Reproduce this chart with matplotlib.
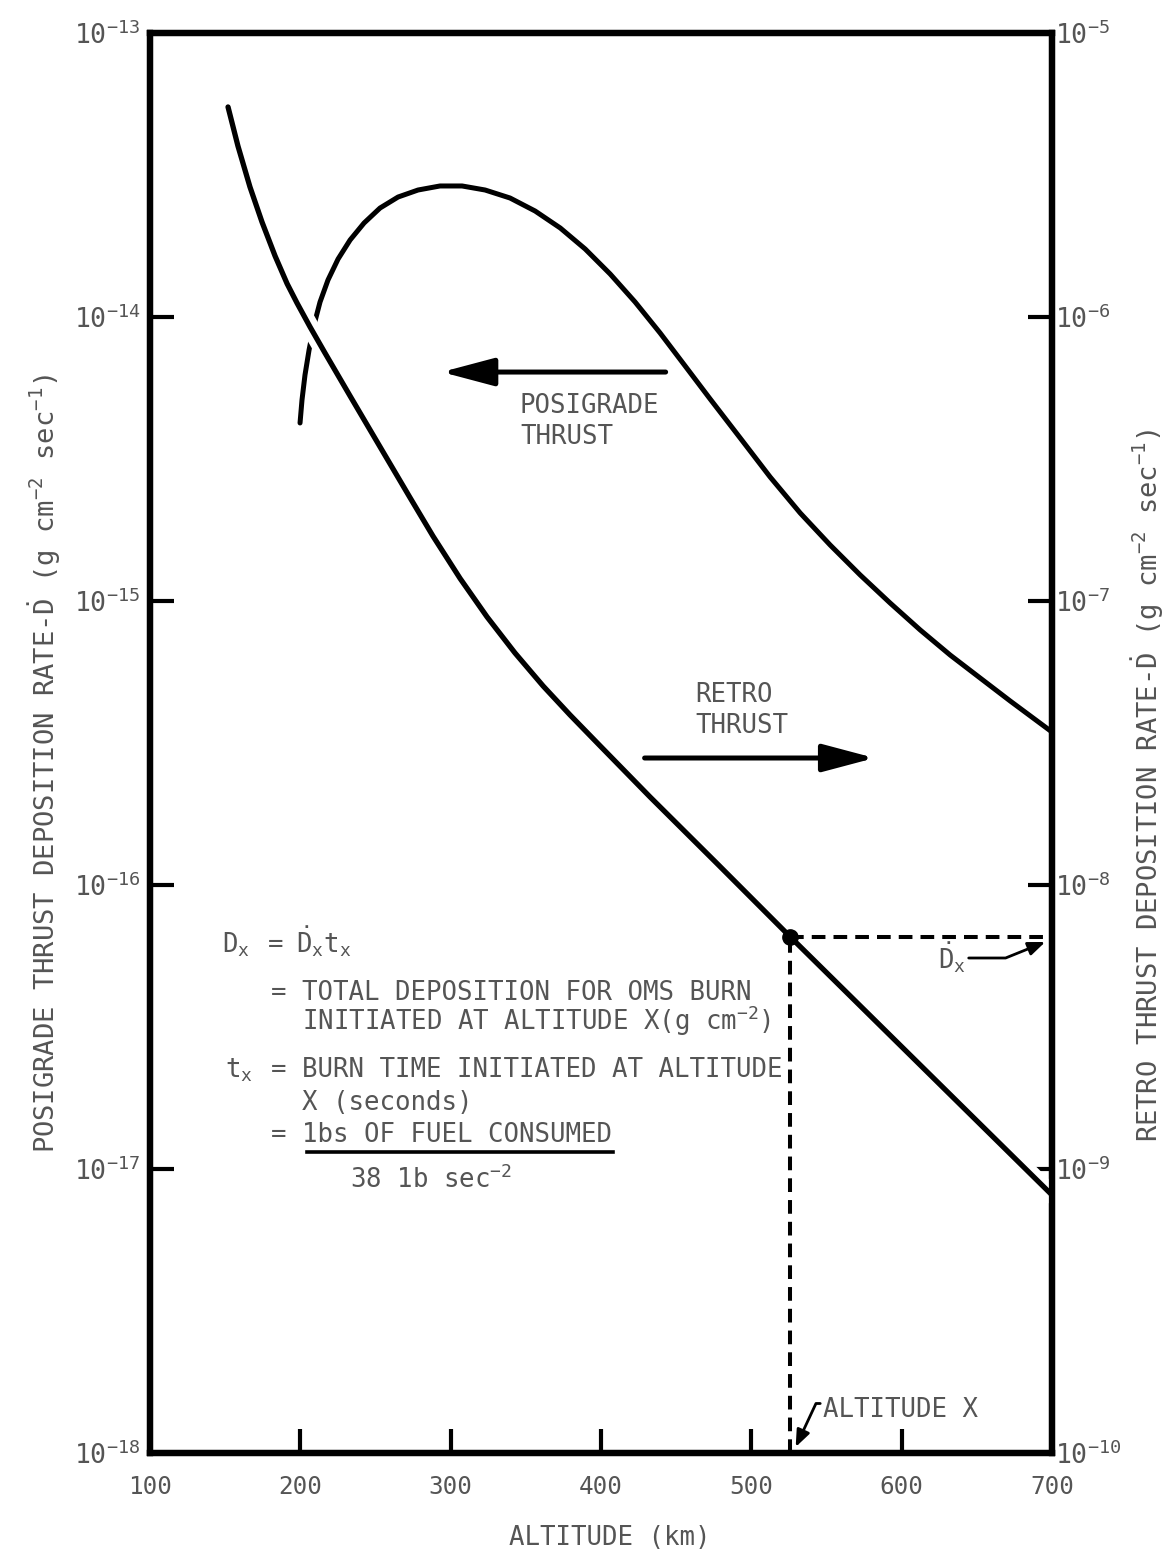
import numpy as np
import matplotlib
matplotlib.use("Agg")
import matplotlib.pyplot as plt
import matplotlib.patheffects as pe
from matplotlib.lines import Line2D
from matplotlib.ticker import NullLocator

# ---- data ---------------------------------------------------------------
# retro thrust curve, right axis (g cm^-2 sec^-1)
retro_alt = [151.9, 158.5, 166.5, 174.5, 183.2, 191.2, 197.8, 206.5, 216.4,
             233.1, 255.0, 273.0, 288.3, 306.3, 324.2, 342.8, 361.5, 379.4,
             399.4, 432.7, 477.2, 526, 700]
retro_rate = [5.49e-6, 4.00e-6, 2.87e-6, 2.16e-6, 1.64e-6, 1.31e-6, 1.12e-6,
              9.22e-7, 7.47e-7, 5.27e-7, 3.35e-7, 2.31e-7, 1.69e-7, 1.20e-7,
              8.79e-8, 6.56e-8, 5.02e-8, 3.97e-8, 3.09e-8, 2.04e-8, 1.19e-8,
              6.56e-9, 8.10e-10]

# posigrade thrust curve, left axis
posi_alt = [199.8, 201.1, 203.1, 205.8, 209.1, 213.1, 218.4, 225.1, 233.1,
            242.4, 253.0, 265.0, 278.3, 292.9, 307.6, 322.9, 339.5, 356.2,
            372.9, 389.5, 406.1, 422.7, 439.3, 456.0, 472.6, 492.6, 512.5,
            532.5, 552.4, 572.4, 592.3, 612.3, 632.3, 652.2, 672.2, 700]
posi_rate = [4.235e-15, 5.10e-15, 6.25e-15, 7.65e-15, 9.37e-15, 1.129e-14,
             1.350e-14, 1.600e-14, 1.867e-14, 2.143e-14, 2.419e-14, 2.645e-14,
             2.800e-14, 2.893e-14, 2.893e-14, 2.800e-14, 2.624e-14, 2.361e-14,
             2.058e-14, 1.735e-14, 1.417e-14, 1.129e-14, 8.786e-15, 6.72e-15,
             5.144e-15, 3.749e-15, 2.733e-15, 2.041e-15, 1.575e-15, 1.235e-15,
             9.84e-16, 7.91e-16, 6.45e-16, 5.356e-16, 4.445e-16, 3.457e-16]

burn_alt = 526          # "altitude X"
burn_rate = 6.56e-9     # D-dot at altitude X (right axis)

x_ticks = [100, 200, 300, 400, 500, 600, 700]
left_ticks = [1e-18, 1e-17, 1e-16, 1e-15, 1e-14, 1e-13]
left_labels = [r"$10^{-18}$", r"$10^{-17}$", r"$10^{-16}$", r"$10^{-15}$",
               r"$10^{-14}$", r"$10^{-13}$"]
right_ticks = [1e-10, 1e-9, 1e-8, 1e-7, 1e-6, 1e-5]
right_labels = [r"$10^{-10}$", r"$10^{-9}$", r"$10^{-8}$", r"$10^{-7}$",
                r"$10^{-6}$", r"$10^{-5}$"]

# ---- style ----------------------------------------------------------------
plt.rcParams.update({
    "font.family": ["DejaVu Sans Mono", "DejaVu Sans"],
    "mathtext.fontset": "custom",
    "mathtext.rm": "DejaVu Sans Mono",
    "mathtext.it": "DejaVu Sans Mono",
    "mathtext.bf": "DejaVu Sans Mono",
})
GREY = "#555555"
W, H = 1170, 1552


def px(x, y):
    # pixel position in the picture -> figure fraction
    return x / W, 1 - y / H


fig = plt.figure(figsize=(W / 100, H / 100), dpi=100)
ax = fig.add_axes([150 / W, 1 - 1453 / H, (1052 - 150) / W, (1453 - 33) / H])
ax.set_xlim(100, 700)
ax.set_yscale("log")
ax.set_ylim(1e-18, 1e-13)
ax2 = ax.twinx()
ax2.set_yscale("log")
ax2.set_ylim(1e-10, 1e-5)

for a in (ax, ax2):
    for s in a.spines.values():
        s.set_linewidth(4.5)
        s.set_color("black")
    a.yaxis.set_minor_locator(NullLocator())
    a.tick_params(direction="in", length=17, width=3, color="black",
                  labelcolor=GREY, labelsize=19)

ax.set_xticks(x_ticks, [str(v) for v in x_ticks])
ax.tick_params(axis="x", pad=16, labelsize=17.5)
ax.set_yticks(left_ticks, left_labels)
ax.tick_params(axis="y", pad=7)
ax2.set_yticks(right_ticks, right_labels)
ax2.tick_params(axis="y", pad=2)
ax.xaxis.set_minor_locator(NullLocator())

# curves
ax.plot(posi_alt, posi_rate, color="black", lw=3.6, solid_capstyle="round",
        solid_joinstyle="round")
ax2.plot(retro_alt, retro_rate, color="black", lw=3.8, solid_capstyle="round",
         solid_joinstyle="round",
         path_effects=[pe.Stroke(linewidth=13, foreground="white"), pe.Normal()])

# altitude X construction
dash = (0, (3.4, 2.0))
ax2.plot([burn_alt, 700], [burn_rate, burn_rate], color="black", lw=2.9,
         ls=dash, zorder=3, clip_on=False)
ax2.plot([burn_alt, burn_alt], [1e-10, burn_rate], color="black", lw=2.9,
         ls=dash, zorder=3)
ax2.plot([burn_alt], [burn_rate], "o", color="black", ms=11, zorder=4)

# direction arrows
ax.annotate("", xy=(294, 6.4e-15), xytext=(443, 6.4e-15),
            arrowprops=dict(arrowstyle="-|>,head_length=3.2,head_width=0.85",
                            mutation_scale=10, lw=3.6, color="black",
                            shrinkA=0, shrinkB=0))
ax2.annotate("", xy=(582, 2.8e-8), xytext=(429, 2.8e-8),
             arrowprops=dict(arrowstyle="-|>,head_length=3.2,head_width=0.85",
                             mutation_scale=10, lw=3.6, color="black",
                             shrinkA=0, shrinkB=0))

txt = dict(color=GREY, fontsize=18.5)
fig.text(*px(520, 393), "POSIGRADE\nTHRUST", ha="left", va="top",
         linespacing=1.25, **txt)
fig.text(*px(695, 682), "RETRO\nTHRUST", ha="left", va="top",
         linespacing=1.25, **txt)

# leaders
ax2.annotate(r"$\dot{\mathrm{D}}_\mathrm{x}$", xy=(695.5, 6.3e-9),
             xytext=px(938, 958), textcoords="figure fraction",
             ha="left", va="center", **txt,
             arrowprops=dict(arrowstyle="-|>,head_length=0.55,head_width=0.22",
                             connectionstyle="angle,angleA=0,angleB=22,rad=0",
                             relpos=(0.82, 0.5), lw=2, color="black",
                             shrinkA=0, shrinkB=0))
ax.annotate("ALTITUDE X", xy=(529.5, 1.05e-18),
            xytext=px(823, 1410), textcoords="figure fraction",
            ha="left", va="center", **txt,
            arrowprops=dict(arrowstyle="-|>,head_length=0.55,head_width=0.22",
                            connectionstyle="angle,angleA=0,angleB=65,rad=0",
                            relpos=(0, 0.75), lw=2, color="black",
                            shrinkA=0, shrinkB=0))

# formula block
fig.text(*px(222, 952), r"$\mathrm{D_x}$", va="baseline", **txt)
fig.text(*px(268, 952), "=", va="baseline", **txt)
fig.text(*px(296, 952), r"$\dot{\mathrm{D}}_\mathrm{x}\mathrm{t_x}$",
         va="baseline", **txt)
fig.text(*px(271, 1000), "= TOTAL DEPOSITION FOR OMS BURN", va="baseline", **txt)
fig.text(*px(302, 1030), r"INITIATED AT ALTITUDE X(g cm$^{-2}$)",
         va="baseline", **txt)
fig.text(*px(225, 1077), r"$\mathrm{t_x}$", va="baseline", **txt)
fig.text(*px(271, 1077), "= BURN TIME INITIATED AT ALTITUDE", va="baseline", **txt)
fig.text(*px(302, 1110), "X (seconds)", va="baseline", **txt)
fig.text(*px(271, 1142), "= 1bs OF FUEL CONSUMED", va="baseline", **txt)
fig.add_artist(Line2D([307 / W, 613 / W], [1 - 1152 / H, 1 - 1152 / H],
                      transform=fig.transFigure, color="black", lw=2.6))
fig.text(*px(350, 1188), r"38 1b sec$^{-2}$", va="baseline", **txt)

# axis titles
lab = dict(color=GREY, fontsize=19.5)
fig.text(*px(610, 1545), "ALTITUDE (km)", ha="center", va="baseline", **txt)
fig.text(*px(45, 763),
         r"POSIGRADE THRUST DEPOSITION RATE-$\dot{\mathrm{D}}$ (g cm$^{-2}$ sec$^{-1}$)",
         rotation=90, ha="center", va="center", **lab)
fig.text(*px(1148, 785),
         r"RETRO THRUST DEPOSITION RATE-$\dot{\mathrm{D}}$ (g cm$^{-2}$ sec$^{-1}$)",
         rotation=90, ha="center", va="center", **lab)

fig.savefig("out.png", dpi=100, facecolor="white")
